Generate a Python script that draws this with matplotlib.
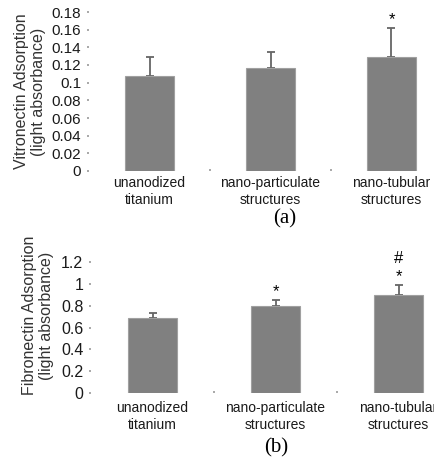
import matplotlib.pyplot as plt
import numpy as np

categories = ['unanodized\ntitanium', 'nano-particulate\nstructures', 'nano-tubular\nstructures']
vitronectin = [0.108, 0.117, 0.129]
vitronectin_err = [0.021, 0.018, 0.033]
fibronectin = [0.69, 0.795, 0.9]
fibronectin_err = [0.04, 0.06, 0.09]
vn_ticks = [0, 0.02, 0.04, 0.06, 0.08, 0.1, 0.12, 0.14, 0.16, 0.18]
vn_ticklabels = ['0', '0.02', '0.04', '0.06', '0.08', '0.1', '0.12', '0.14', '0.16', '0.18']
fn_ticks = [0, 0.2, 0.4, 0.6, 0.8, 1.0, 1.2]
fn_ticklabels = ['0', '0.2', '0.4', '0.6', '0.8', '1', '1.2']

plt.rcParams['font.family'] = ['Liberation Sans', 'DejaVu Sans']

W, H = 434, 466
fig = plt.figure(figsize=(W / 100, H / 100), dpi=100)


def px_axes(x0, y_top, x1, y_bot):
    return fig.add_axes([x0 / W, 1 - y_bot / H, (x1 - x0) / W, (y_bot - y_top) / H])


def panel(ax, vals, errs, ticks, ticklabels, ylim, ylabel, fs, marks, mark_gap, xpad):
    x = np.arange(len(vals))
    ax.bar(x, vals, width=0.405, color='#808080', edgecolor='#a0a0a0', linewidth=0.8, zorder=2)
    ax.errorbar(x, vals, yerr=[np.zeros(len(errs)), errs], fmt='none',
                ecolor='#666666', elinewidth=1.3, capsize=3, capthick=1.3, zorder=1)
    ax.set_xlim(-0.5, len(vals) - 0.5)
    ax.set_ylim(*ylim)
    for s in ax.spines.values():
        s.set_visible(False)
    ax.set_yticks(ticks)
    ax.set_yticklabels(ticklabels, fontsize=fs, color='#1a1a1a')
    ax.tick_params(axis='y', length=1.5, width=1.2, color='#999999', pad=4)
    ax.set_xticks([0.5, 1.5], minor=True)
    ax.tick_params(axis='x', which='minor', length=1.5, width=1.2, color='#999999', direction='in')
    ax.set_xticks(x)
    ax.set_xticklabels(categories, fontsize=10, color='#1a1a1a', linespacing=1.25)
    ax.tick_params(axis='x', which='major', length=0, pad=xpad)
    ax.set_ylabel(ylabel, fontsize=11.5, color='#333333', linespacing=1.2)
    for i, txt in marks:
        ax.text(i, vals[i] + errs[i] + mark_gap, txt, ha='center', va='bottom',
                fontsize=12, linespacing=1.3, clip_on=False)


ax1 = px_axes(89, 12, 452, 171)
panel(ax1, vitronectin, vitronectin_err, vn_ticks, vn_ticklabels, (0, 0.18),
      'Vitronectin Adsorption\n(light absorbance)', 11, [(2, '*')], 0.001, 3.5)
ax1.yaxis.set_label_coords(-0.118, 0.5)

ax2 = px_axes(91, 262, 460, 393)
panel(ax2, fibronectin, fibronectin_err, fn_ticks, fn_ticklabels, (0, 1.2),
      'Fibronectin Adsorption\n(light absorbance)', 11.5, [(1, '*'), (2, '#\n*')], 0.005, 6)
ax2.yaxis.set_label_coords(-0.10, 0.59)

fig.text(285 / W, 1 - 219 / H, '(a)', family='Liberation Serif', fontsize=15, ha='center', va='center')
fig.text(276 / W, 1 - 448 / H, '(b)', family='Liberation Serif', fontsize=15, ha='center', va='center')

fig.savefig('out.png', dpi=100)
